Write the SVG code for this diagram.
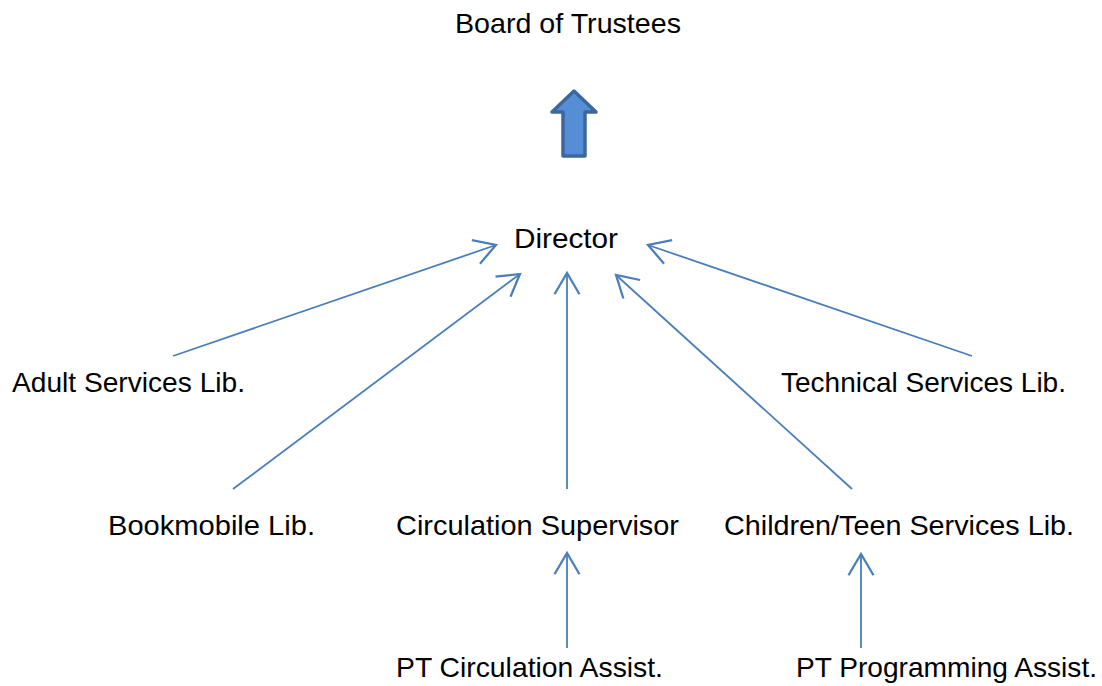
<svg xmlns="http://www.w3.org/2000/svg" width="1102" height="686" viewBox="0 0 1102 686">
<defs>
<style>
.lbl{font-family:"Liberation Sans",Arial,sans-serif;font-size:28px;fill:#000}
.con{stroke:#4a7ebb;stroke-width:1.8;fill:none;marker-end:url(#oa)}
</style>
<marker id="oa" markerUnits="userSpaceOnUse" markerWidth="30" markerHeight="30" viewBox="-20 -12 24 24" refX="0" refY="0" orient="auto">
<path d="M-17,-10 L0,0 L-17,10" fill="none" stroke="#4a7ebb" stroke-width="1.8"/>
</marker>
</defs>
<rect width="1102" height="686" fill="#fff"/>
<g id="board"><text class="lbl" x="455" y="33" textLength="226" lengthAdjust="spacingAndGlyphs">Board of Trustees</text></g>
<g id="block-arrow"><path d="M574,91 L596,112 L585,112 L585,156 L563,156 L563,112 L552,112 Z" fill="#558ed5" stroke="#3c679e" stroke-width="3.5" stroke-linejoin="round"/></g>
<g id="director"><text class="lbl" x="514" y="248" textLength="104" lengthAdjust="spacingAndGlyphs">Director</text></g>
<g id="adult"><text class="lbl" x="12" y="392" textLength="233" lengthAdjust="spacingAndGlyphs">Adult Services Lib.</text></g>
<g id="technical"><text class="lbl" x="781" y="392" textLength="285" lengthAdjust="spacingAndGlyphs">Technical Services Lib.</text></g>
<g id="bookmobile"><text class="lbl" x="108" y="535" textLength="207" lengthAdjust="spacingAndGlyphs">Bookmobile Lib.</text></g>
<g id="circulation"><text class="lbl" x="396" y="535" textLength="283" lengthAdjust="spacingAndGlyphs">Circulation Supervisor</text></g>
<g id="children"><text class="lbl" x="724" y="535" textLength="350" lengthAdjust="spacingAndGlyphs">Children/Teen Services Lib.</text></g>
<g id="pt-circ"><text class="lbl" x="396" y="677" textLength="267" lengthAdjust="spacingAndGlyphs">PT Circulation Assist.</text></g>
<g id="pt-prog"><text class="lbl" x="796" y="677" textLength="301" lengthAdjust="spacingAndGlyphs">PT Programming Assist.</text></g>
<g id="connectors">
<line class="con" x1="173" y1="356" x2="496" y2="245"/>
<line class="con" x1="233" y1="489" x2="520" y2="274"/>
<line class="con" x1="567" y1="489" x2="567" y2="273"/>
<line class="con" x1="852" y1="489" x2="616" y2="275"/>
<line class="con" x1="972" y1="356" x2="648" y2="245"/>
<line class="con" x1="567" y1="648" x2="567" y2="553"/>
<line class="con" x1="861" y1="648" x2="861" y2="554"/>
</g>
</svg>
